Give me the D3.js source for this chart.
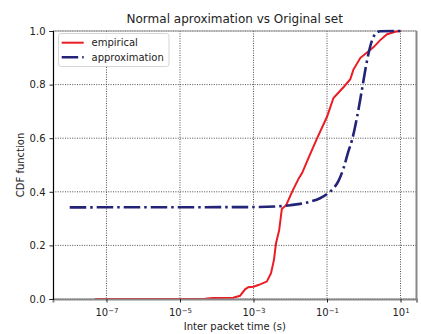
<!DOCTYPE html>
<html>
<head>
<meta charset="utf-8">
<script src="https://cdn.jsdelivr.net/npm/d3@7"></script>
<style>
  body { margin: 0; background: #fff; }
  text { font-family: "DejaVu Sans", sans-serif; fill: #222; }
</style>
</head>
<body>
<div id="chart"></div>
<script>
// empirical CDF (x in seconds)
var empX = [4.9e-8, 4.8e-5, 7.9e-5, 2.8e-4, 4.3e-4, 5.9e-4, 7.2e-4, 1.0e-3, 1.35e-3, 2.3e-3,
            3.0e-3, 3.6e-3, 4.1e-3, 5.0e-3, 5.9e-3, 7.8e-3, 0.0112, 0.017, 0.021, 0.030,
            0.054, 0.10, 0.15, 0.28, 0.43, 0.52, 0.81, 1.23, 1.86, 2.8, 4.3, 7.2, 10];
var empY = [0, 0.001, 0.004, 0.005, 0.012, 0.036, 0.044, 0.046, 0.052, 0.065,
            0.096, 0.146, 0.208, 0.257, 0.336, 0.351, 0.40, 0.45, 0.47, 0.52,
            0.60, 0.68, 0.75, 0.79, 0.82, 0.855, 0.90, 0.92, 0.94, 0.966, 0.988, 0.997, 1.0];

// normal approximation
var apxX = [1e-8, 8.1e-4, 3.9e-3, 0.010, 0.0186, 0.0347, 0.0646, 0.100, 0.151, 0.204,
            0.282, 0.38, 0.479, 0.66, 0.89, 1.23, 1.70, 2.09, 2.82, 10];
var apxY = [0.342, 0.343, 0.345, 0.350, 0.355, 0.363, 0.376, 0.392, 0.413, 0.44,
            0.488, 0.55, 0.593, 0.68, 0.78, 0.89, 0.967, 0.99, 0.999, 1.0];

var xTicks = [1e-7, 1e-5, 1e-3, 1e-1, 1e1];
var yTicks = [0, 0.2, 0.4, 0.6, 0.8, 1.0];

var seriesNames = ["empirical", "approximation"];

var W = 421, H = 334;
var margin = {top: 31, right: 4.5, bottom: 35, left: 53};
var width = W - margin.left - margin.right,
    height = H - margin.top - margin.bottom;

var svg = d3.select("#chart").append("svg").attr("width", W).attr("height", H);
var g = svg.append("g").attr("transform", "translate(" + margin.left + "," + margin.top + ")");

// log x scale with matplotlib-like margins
var x = d3.scaleLog().domain([Math.pow(10, -8.455), Math.pow(10, 1.435)]).range([0, width]);
var y = d3.scaleLinear().domain([0, 1]).range([height, 0]);

// grid lines (black dotted)
g.selectAll(".vgrid").data(xTicks).enter().append("line")
    .attr("x1", d => x(d)).attr("x2", d => x(d)).attr("y1", 0).attr("y2", height)
    .attr("stroke", "#222").attr("stroke-width", 0.8).attr("stroke-dasharray", "1,1.4");
g.selectAll(".hgrid").data(yTicks).enter().append("line")
    .attr("x1", 0).attr("x2", width).attr("y1", d => y(d)).attr("y2", d => y(d))
    .attr("stroke", "#222").attr("stroke-width", 0.8).attr("stroke-dasharray", "1,1.4");

// spines: top/right/bottom gray, left black
g.append("line").attr("x1", 0).attr("x2", width).attr("y1", 0).attr("y2", 0)
    .attr("stroke", "#999").attr("stroke-width", 1);
g.append("line").attr("x1", width).attr("x2", width).attr("y1", 0).attr("y2", height)
    .attr("stroke", "#888").attr("stroke-width", 2);

// lines
var empData = empX.map((d, i) => [d, empY[i]]);
var apxData = apxX.map((d, i) => [d, apxY[i]]);

var empLine = d3.line().x(d => x(d[0])).y(d => y(d[1]));
var apxLine = d3.line().x(d => x(d[0])).y(d => y(d[1])).curve(d3.curveMonotoneX);

g.append("path").datum(empData).attr("d", empLine)
    .attr("fill", "none").attr("stroke", "#ec1c24").attr("stroke-width", 2);
g.append("path").datum(apxData).attr("d", apxLine)
    .attr("fill", "none").attr("stroke", "#232378").attr("stroke-width", 2.6)
    .attr("stroke-dasharray", "16.5,4,2.5,4");

// bottom axis
var xAxis = g.append("g").attr("transform", "translate(0," + height + ")")
    .call(d3.axisBottom(x).tickValues(xTicks).tickSize(3.5).tickPadding(4).tickFormat(""));
xAxis.select(".domain").attr("stroke", "#888").attr("stroke-width", 2);
xAxis.selectAll(".tick line").attr("stroke", "#222");
xAxis.selectAll(".tick text").each(function(d) {
    var t = d3.select(this).attr("font-size", 10).attr("dy", "0.95em");
    t.append("tspan").text("10");
    t.append("tspan").attr("dy", "-0.45em").attr("font-size", 7)
        .text("\u2212".repeat(d < 1 ? 1 : 0) + Math.abs(Math.round(Math.log10(d))));
});

// left axis
var yAxis = g.append("g")
    .call(d3.axisLeft(y).tickValues(yTicks).tickSize(3.5).tickPadding(4).tickFormat(d3.format(".1f")));
yAxis.select(".domain").attr("stroke", "#000").attr("stroke-width", 1.2);
yAxis.selectAll(".tick line").attr("stroke", "#222");
yAxis.selectAll(".tick text").attr("font-size", 10);

// title and labels
svg.append("text").attr("x", margin.left + width / 2).attr("y", 23)
    .attr("text-anchor", "middle").style("font-size", "12px")
    .text("Normal aproximation vs Original set");
svg.append("text").attr("x", margin.left + width / 2).attr("y", 330)
    .attr("text-anchor", "middle").style("font-size", "10px")
    .text("Inter packet time (s)");
svg.append("text").attr("transform", "translate(24," + (margin.top + height / 2) + ") rotate(-90)")
    .attr("text-anchor", "middle").style("font-size", "10px")
    .text("CDF function");

// legend
var leg = svg.append("g").attr("transform", "translate(58.5,33.5)");
leg.append("rect").attr("width", 110.5).attr("height", 33).attr("rx", 2.5)
    .attr("fill", "#fff").attr("fill-opacity", 0.85).attr("stroke", "#d6d6d6").attr("stroke-width", 1);
var legStyles = [
    {color: "#ec1c24", w: 2, dash: null},
    {color: "#232378", w: 2.6, dash: "16.5,4,2.5,4"}
];
seriesNames.forEach(function(name, i) {
    var yy = 9.2 + i * 14.6;
    leg.append("line").attr("x1", 3.2).attr("x2", 25.2).attr("y1", yy).attr("y2", yy)
        .attr("stroke", legStyles[i].color).attr("stroke-width", legStyles[i].w)
        .attr("stroke-dasharray", legStyles[i].dash);
    leg.append("text").attr("x", 33).attr("y", yy).attr("dy", "0.35em")
        .style("font-size", "10px").text(name);
});
</script>
</body>
</html>
